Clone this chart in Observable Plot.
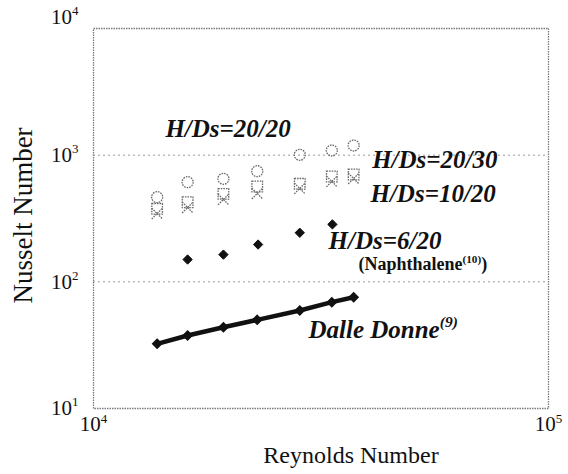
<!DOCTYPE html>
<html>
<head>
<meta charset="utf-8">
<script src="https://cdn.jsdelivr.net/npm/d3@7"></script>
<script src="https://cdn.jsdelivr.net/npm/@observablehq/plot@0.6"></script>
<style>
  html, body { margin: 0; padding: 0; background: #fff; }
</style>
</head>
<body>
<div id="chart"></div>
<script>
// Reynolds numbers of the experimental points
const reynolds = [13800, 16100, 19300, 22900, 28400, 33400, 37300];
// Nusselt numbers, series by series
const nuH20D20 = [466, 612, 651, 747, 1007, 1089, 1192];
const nuH20D30 = [377, 425, 495, 566, 594, 679, 704];
const nuH10D20 = [346, 386, 447, 498, 546, 620, 654];
const reynoldsH6 = [16100, 19300, 23000, 28400, 33500];
const nuH6D20 = [150, 164, 197, 244, 284];
const nuDalleDonne = [32.4, 37.7, 43.8, 50.1, 59.4, 69.1, 75.6];

// tick values
const xTicks = [1e4, 1e5];
const yTicks = [10, 100, 1000, 10000];
const gridValues = [100, 1000];

// annotation texts (superscripts in braces) and their anchors in data space
const labelText = ["H/Ds=20/20", "H/Ds=20/30", "H/Ds=10/20", "H/Ds=6/20", "Dalle Donne{(9)}"];
const labelRe = [14390, 40970, 40620, 32850, 29680];
const labelNu = [1615, 919, 498, 209, 41.7];
const noteText = ["(Naphthalene{(10)})"];
const noteRe = [38230];
const noteNu = [137];

const pts = (xs, ys) => xs.map((x, i) => ({x, y: ys[i]}));
const labels = labelText.map((t, i) => ({t, x: labelRe[i], y: labelNu[i]}));
const notes = noteText.map((t, i) => ({t, x: noteRe[i], y: noteNu[i]}));

const serif = "Liberation Serif, Times New Roman, serif";
const openStroke = {fill: "none", stroke: "#6a6a6a", strokeWidth: 1.3, strokeDasharray: "1.6,1"};

const svg = Plot.plot({
  width: 568,
  height: 474,
  marginTop: 28,
  marginBottom: 66,
  marginLeft: 93,
  marginRight: 20,
  style: {background: "#fff"},
  x: {type: "log", domain: [1e4, 1e5], ticks: xTicks, tickFormat: d => `10{${Math.round(Math.log10(d))}}`, tickSize: 0, tickPadding: 8, label: null},
  y: {type: "log", domain: [10, 1e4], ticks: yTicks, tickFormat: d => `10{${Math.round(Math.log10(d))}}`, tickSize: 0, tickPadding: 15, label: null},
  marks: [
    Plot.ruleY(gridValues, {stroke: "#9a9a9a", strokeWidth: 1, strokeDasharray: "2,3"}),
    Plot.frame({stroke: "#7a7a7a", strokeWidth: 1.3, strokeDasharray: "1.5,1"}),
    Plot.dot(pts(reynolds, nuH20D20), {x: "x", y: "y", symbol: "circle", r: 5.5, ...openStroke}),
    Plot.dot(pts(reynolds, nuH20D30), {x: "x", y: "y", symbol: "square", r: 6, ...openStroke}),
    Plot.dot(pts(reynolds, nuH10D20), {x: "x", y: "y", symbol: "times", r: 5, ...openStroke}),
    Plot.dot(pts(reynoldsH6, nuH6D20), {x: "x", y: "y", symbol: "diamond2", r: 4.2, fill: "#111", stroke: "#111", strokeWidth: 1}),
    Plot.line(pts(reynolds, nuDalleDonne), {x: "x", y: "y", stroke: "#111", strokeWidth: 4.5}),
    Plot.dot(pts(reynolds, nuDalleDonne), {x: "x", y: "y", symbol: "diamond2", r: 4, fill: "#111", stroke: "#111"}),
    Plot.text(labels, {x: "x", y: "y", text: "t", textAnchor: "start", lineAnchor: "middle", fontFamily: serif, fontSize: 25, fontStyle: "italic", fontWeight: "bold", fill: "#111"}),
    Plot.text(notes, {x: "x", y: "y", text: "t", textAnchor: "start", lineAnchor: "middle", fontFamily: serif, fontSize: 18, fontWeight: "bold", fill: "#111"}),
    Plot.text(["Reynolds Number"], {text: d => d, frameAnchor: "bottom", textAnchor: "middle", lineAnchor: "middle", dx: 30, dy: 47, fontFamily: serif, fontSize: 24, fill: "#111"}),
    Plot.text(["Nusselt Number"], {text: d => d, frameAnchor: "left", textAnchor: "middle", lineAnchor: "middle", rotate: -90, dx: -70, dy: -3, fontFamily: serif, fontSize: 27, fill: "#111"})
  ]
});

document.getElementById("chart").appendChild(svg);

// tick labels: serif, larger; the top y label sits above the frame as in the source
svg.querySelectorAll("text").forEach(t => {
  if (/^10\{\d\}$/.test(t.textContent)) {
    t.style.fontFamily = serif;
    t.style.fontSize = "21px";
    t.style.fill = "#111";
    const anchor = t.getAttribute("text-anchor") || (t.parentNode && t.parentNode.getAttribute && t.parentNode.getAttribute("text-anchor"));
    if (t.textContent === "10{4}" && anchor === "end") {
      const tr = t.getAttribute("transform") || "";
      t.setAttribute("transform", (tr + " translate(0,-11)").trim());
    }
  }
});

// turn "a{b}c" into text with a raised, smaller b
const ns = "http://www.w3.org/2000/svg";
svg.querySelectorAll("text").forEach(t => {
  const s = t.textContent;
  const m = s.match(/^(.*)\{(.*)\}(.*)$/);
  if (!m) return;
  const fs = parseFloat(getComputedStyle(t).fontSize) || 21;
  while (t.firstChild) t.removeChild(t.firstChild);
  const a = document.createElementNS(ns, "tspan");
  a.textContent = m[1];
  t.appendChild(a);
  const b = document.createElementNS(ns, "tspan");
  b.textContent = m[2];
  b.setAttribute("font-size", (fs * 0.62).toFixed(1));
  b.setAttribute("dy", (-fs * 0.42).toFixed(1));
  t.appendChild(b);
  if (m[3]) {
    const c = document.createElementNS(ns, "tspan");
    c.textContent = m[3];
    c.setAttribute("dy", (fs * 0.42).toFixed(1));
    t.appendChild(c);
  }
});
</script>
</body>
</html>
